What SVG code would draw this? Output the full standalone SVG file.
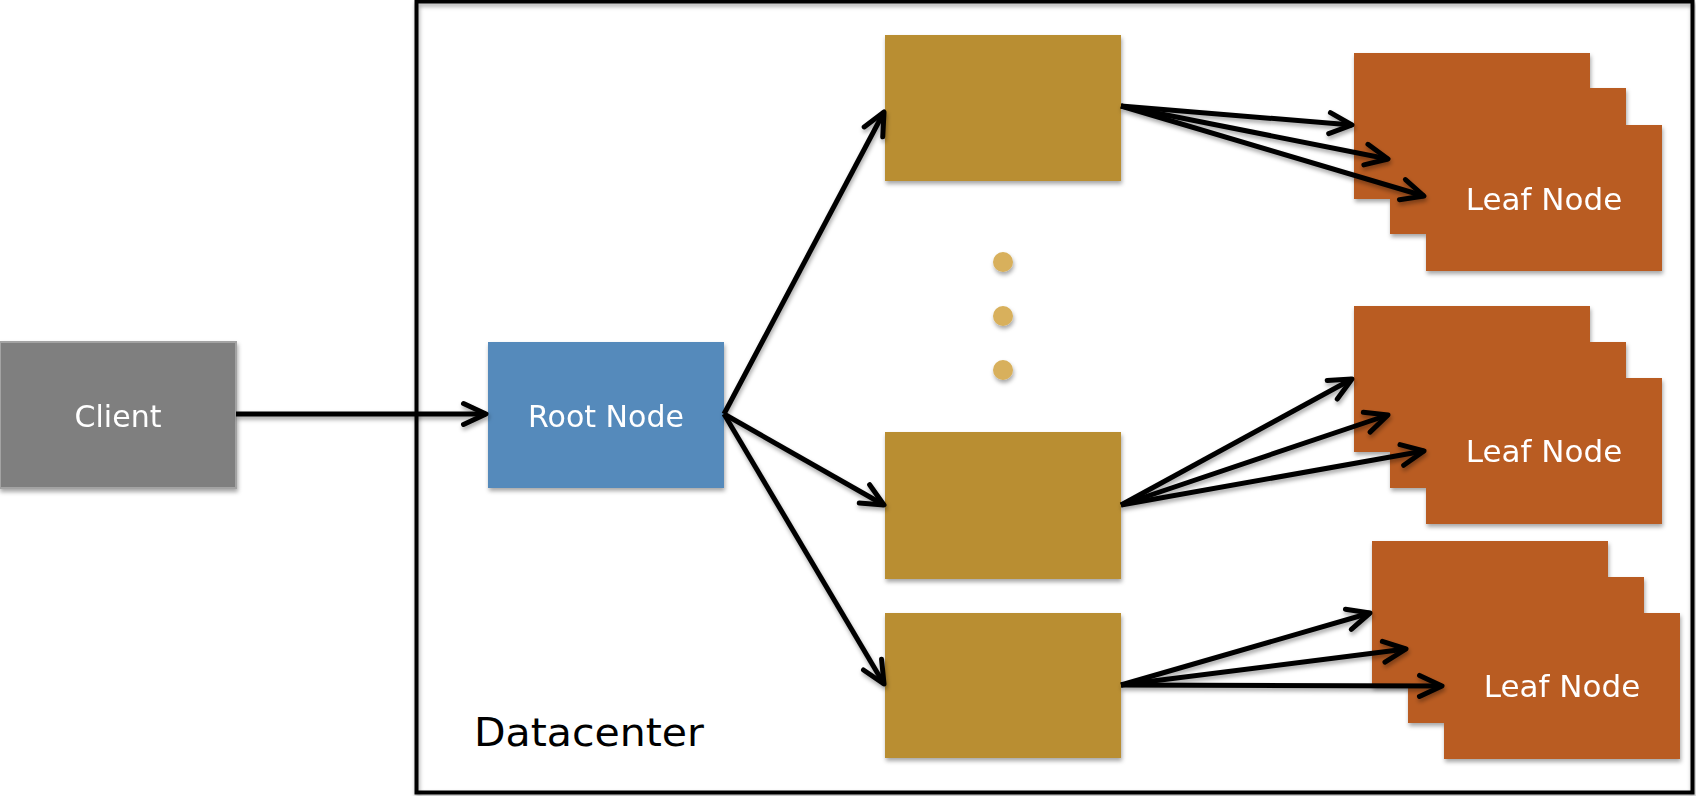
<svg xmlns="http://www.w3.org/2000/svg" width="1696" height="796" viewBox="0 0 1696 796">
  <style>
    .lbl { font-family: "DejaVu Sans", "Liberation Sans", sans-serif; font-size: 30px; fill: #ffffff; text-anchor: middle; }
    .leafl { font-size: 31px; }
    .mid { fill: #b98e30; }
    .leaf { fill: #b95b24; }
    .conn { stroke: #000000; stroke-width: 5; fill: none; marker-end: url(#arr); }
  </style>
  <defs>
    <filter id="sh" filterUnits="userSpaceOnUse" x="0" y="0" width="1696" height="796">
      <feDropShadow dx="1" dy="3" stdDeviation="2" flood-color="#000000" flood-opacity="0.35"/>
    </filter>
    <marker id="arr" markerUnits="userSpaceOnUse" orient="auto" refX="0" refY="0" markerWidth="40" markerHeight="40" style="overflow:visible">
      <path d="M-22.5,-10.5 L0,0 L-22.5,10.5" fill="none" stroke="#000000" stroke-width="5" stroke-linecap="round" stroke-linejoin="round"/>
    </marker>
  </defs>
  <rect x="0" y="0" width="1696" height="796" fill="#ffffff"/>

  <g id="datacenter">
    <rect x="416.5" y="1.5" width="1276" height="791" fill="none" stroke="#000000" stroke-width="4" filter="url(#sh)"/>
    <text x="474" y="746" font-family="DejaVu Sans, Liberation Sans, sans-serif" font-size="39" fill="#000000" textLength="230" lengthAdjust="spacingAndGlyphs">Datacenter</text>
  </g>

  <g id="client" filter="url(#sh)">
    <rect x="0" y="342" width="236" height="146" fill="#7f7f7f" stroke="#a3a3a3" stroke-width="2"/>
    <text class="lbl" x="118" y="427">Client</text>
  </g>

  <g id="root" filter="url(#sh)">
    <rect x="488" y="342" width="236" height="146" fill="#558abb"/>
    <text class="lbl" x="606" y="427">Root Node</text>
  </g>

  <g id="agg1" filter="url(#sh)">
    <rect class="mid" x="885" y="35" width="236" height="146"/>
  </g>
  <g id="dots" filter="url(#sh)">
    <circle cx="1003" cy="262" r="10" fill="#d8b05b"/>
    <circle cx="1003" cy="316" r="10" fill="#d8b05b"/>
    <circle cx="1003" cy="370" r="10" fill="#d8b05b"/>
  </g>
  <g id="agg2" filter="url(#sh)">
    <rect class="mid" x="885" y="432" width="236" height="147"/>
  </g>
  <g id="agg3" filter="url(#sh)">
    <rect class="mid" x="885" y="613" width="236" height="145"/>
  </g>

  <g id="leaves1" filter="url(#sh)">
    <rect class="leaf" x="1354" y="53" width="236" height="146"/>
    <rect class="leaf" x="1390" y="88" width="236" height="146"/>
    <rect class="leaf" x="1426" y="125" width="236" height="146"/>
    <text class="lbl leafl" x="1544" y="210">Leaf Node</text>
  </g>
  <g id="leaves2" filter="url(#sh)">
    <rect class="leaf" x="1354" y="306" width="236" height="146"/>
    <rect class="leaf" x="1390" y="342" width="236" height="146"/>
    <rect class="leaf" x="1426" y="378" width="236" height="146"/>
    <text class="lbl leafl" x="1544" y="462">Leaf Node</text>
  </g>
  <g id="leaves3" filter="url(#sh)">
    <rect class="leaf" x="1372" y="541" width="236" height="146"/>
    <rect class="leaf" x="1408" y="577" width="236" height="146"/>
    <rect class="leaf" x="1444" y="613" width="236" height="146"/>
    <text class="lbl leafl" x="1562" y="697">Leaf Node</text>
  </g>

  <g id="connectors" filter="url(#sh)">
    <line class="conn" x1="236" y1="414" x2="486" y2="414"/>
    <line class="conn" x1="724" y1="414" x2="884" y2="112"/>
    <line class="conn" x1="724" y1="414" x2="884" y2="505"/>
    <line class="conn" x1="724" y1="414" x2="884" y2="684"/>
    <line class="conn" x1="1121" y1="106" x2="1352" y2="125"/>
    <line class="conn" x1="1121" y1="106" x2="1388" y2="159"/>
    <line class="conn" x1="1121" y1="106" x2="1424" y2="196"/>
    <line class="conn" x1="1121" y1="505" x2="1352" y2="379"/>
    <line class="conn" x1="1121" y1="505" x2="1388" y2="415"/>
    <line class="conn" x1="1121" y1="505" x2="1424" y2="451"/>
    <line class="conn" x1="1121" y1="685" x2="1370" y2="613"/>
    <line class="conn" x1="1121" y1="685" x2="1406" y2="649"/>
    <line class="conn" x1="1121" y1="685" x2="1442" y2="686"/>
  </g>
</svg>
